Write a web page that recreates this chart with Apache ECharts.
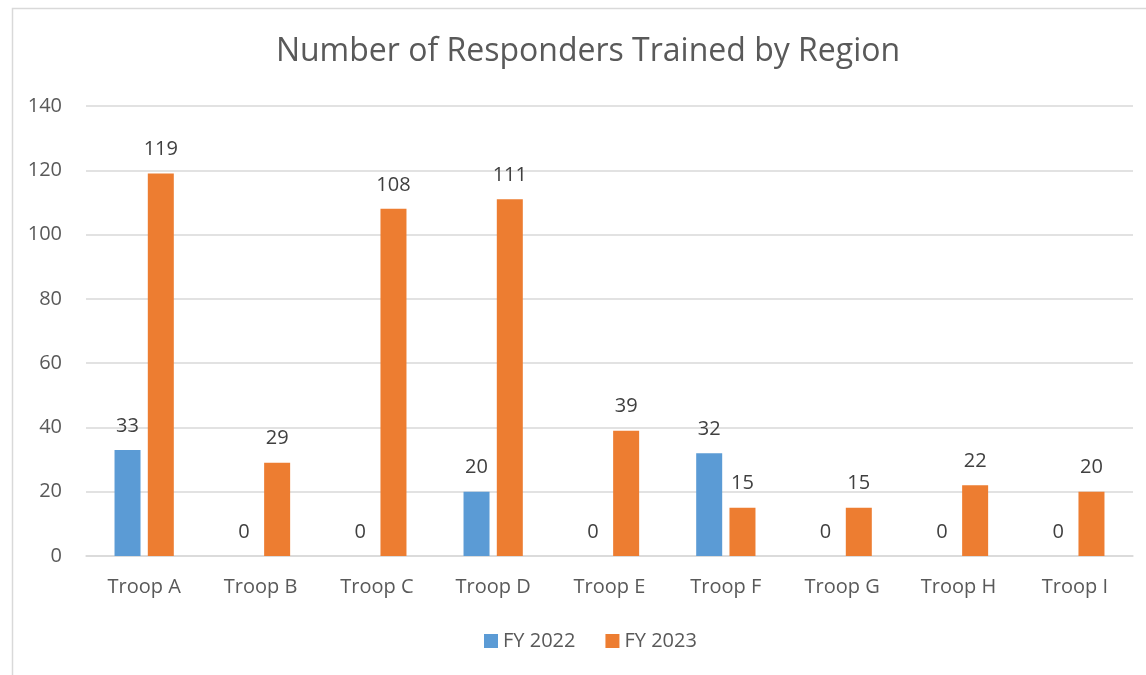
<!DOCTYPE html>
<html>
<head>
<meta charset="utf-8">
<script src="https://cdn.jsdelivr.net/npm/echarts@6/dist/echarts.min.js"></script>
<style>
  html, body { margin: 0; padding: 0; background: #fff; }
  #chart { width: 1146px; height: 675px; }
</style>
</head>
<body>
<div id="chart"></div>
<script>
// Responders trained per troop region, two fiscal years
const categories = ['Troop A', 'Troop B', 'Troop C', 'Troop D', 'Troop E', 'Troop F', 'Troop G', 'Troop H', 'Troop I'];
const fy2022 = [33, 0, 0, 20, 0, 32, 0, 0, 0];
const fy2023 = [119, 29, 108, 111, 39, 15, 15, 22, 20];
const yTicks = { min: 0, max: 140, interval: 20 };

const FONT = '"Open Sans", "Liberation Sans", sans-serif';
const TEXT = '#595959';

const chart = echarts.init(document.getElementById('chart'), null, { renderer: 'canvas' });

const labelStyle = {
  show: true,
  position: 'top',
  distance: 14,
  color: '#404040',
  fontFamily: FONT,
  fontSize: 20
};

chart.setOption({
  animation: false,
  backgroundColor: '#ffffff',
  graphic: [{
    type: 'rect',
    left: 10, top: 6,
    shape: { width: 1200, height: 720 },
    style: { fill: 'none', stroke: '#d9d9d9', lineWidth: 1.5 },
    silent: true, z: -1
  }],
  title: {
    text: 'Number of Responders Trained by Region',
    left: 583, top: 31, textAlign: 'center',
    textStyle: { fontFamily: FONT, fontSize: 32, fontWeight: 'normal', color: TEXT }
  },
  legend: {
    bottom: 19, left: 479,
    itemWidth: 14, itemHeight: 14, itemGap: 30,
    icon: 'rect',
    textStyle: { fontFamily: FONT, fontSize: 20, color: TEXT },
    data: ['FY 2022', 'FY 2023']
  },
  grid: { left: 86, right: 13, top: 106, bottom: 119, containLabel: false },
  xAxis: {
    type: 'category',
    data: categories,
    axisLine: { lineStyle: { color: '#d9d9d9', width: 1.5 } },
    axisTick: { show: false },
    axisLabel: { fontFamily: FONT, fontSize: 20, color: TEXT, margin: 21 }
  },
  yAxis: {
    type: 'value',
    min: yTicks.min, max: yTicks.max, interval: yTicks.interval,
    axisLine: { show: false },
    axisTick: { show: false },
    splitLine: { lineStyle: { color: '#d9d9d9', width: 1.5 } },
    axisLabel: { fontFamily: FONT, fontSize: 20, color: TEXT, margin: 24 }
  },
  series: [
    { name: 'FY 2022', type: 'bar', data: fy2022, barWidth: 26, barGap: '28%',
      itemStyle: { color: '#5b9bd5' }, label: labelStyle },
    { name: 'FY 2023', type: 'bar', data: fy2023, barWidth: 26, barGap: '28%',
      itemStyle: { color: '#ed7d31' }, label: labelStyle }
  ]
});
</script>
</body>
</html>
